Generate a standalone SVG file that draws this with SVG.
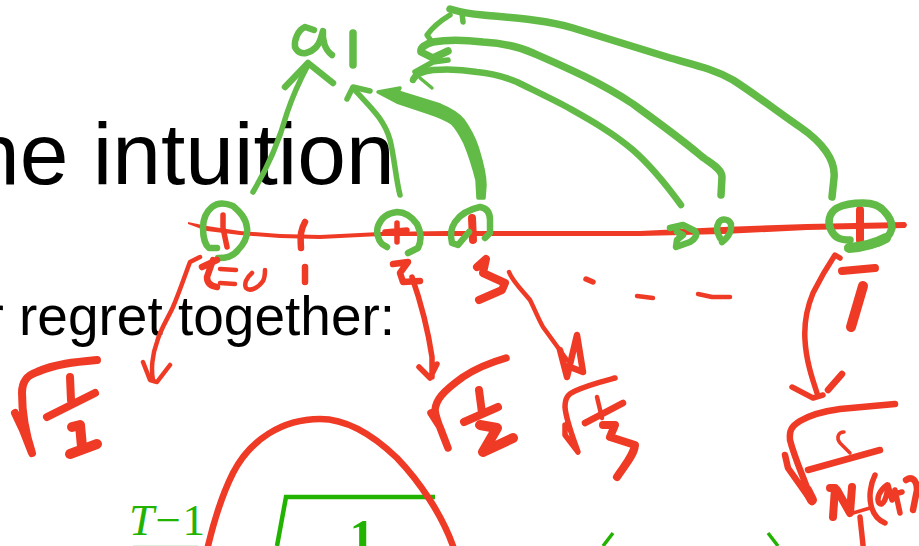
<svg xmlns="http://www.w3.org/2000/svg" width="919" height="546" viewBox="0 0 919 546">
<style>
.t{font-family:"Liberation Sans",Arial,sans-serif;fill:#000}
.m{font-family:"Liberation Serif","Times New Roman",serif;fill:#22b300}
.r,.g,.k{fill:none;stroke-linecap:round;stroke-linejoin:round}
.r{stroke:#ef3a26}.g{stroke:#61bb46}.k{stroke:#22b300;stroke-linecap:butt;stroke-linejoin:miter}
.fr{fill:#ef3a26}.fg{fill:#61bb46}
.a{stroke-width:3.5}.b{stroke-width:4.5}.c{stroke-width:5.5}.d{stroke-width:6.5}.e{stroke-width:7.5}.f{stroke-width:8}.h{stroke-width:10}
</style>
<rect width="919" height="546" fill="#fff"/>
<g id="slide">
<text class="t" x="-29" y="184" font-size="87.6">he intuition</text>
<text class="t" x="-14.6" y="335" font-size="55">r regret together:</text>
<text class="m" x="129" y="535" font-size="45" letter-spacing="1.5"><tspan font-style="italic">T</tspan>−1</text>
<rect x="133" y="545" width="65" height="1" fill="#dff0dc"/>
<path class="k b" d="M277 546L286 497H435"/>
<text class="m" x="362" y="554" font-size="50" font-weight="bold" text-anchor="middle">1</text>
<path class="k a" d="M613 533L603 546M768 533L778 546"/>
</g>
<g id="connectors">
<path class="g c" d="M253 192C265 172 278 145 287 113C293 95 300 80 308 65"/>
<path class="g d" d="M285 87L308 63L333 83"/>
<path class="g c" d="M400 195C396 180 394 155 390 140C384 118 368 105 353 88"/>
<path class="g c" d="M347 99L353 87L370 91"/>
<path class="fg g a" d="M378 92L400 88L398 92L440 105C452 110 458 114 463 120C470 130 474 138 477 147C481 160 485 172 485 185L484 198H478L477 180C474 168 470 155 465 143C461 135 457 128 452 123C445 118 436 115 427 112L397 102Z"/>
<path class="g e" d="M832 197L834 178C836 160 822 142 800 127C778 112 755 94 733 80C712 68 690 64 667 57C635 47 605 38 573 28C545 20 515 18 483 15C470 14 460 12 450 9"/>
<path class="g c" d="M463 22L462 13M450 15C440 21 432 28 427 35L432 42"/>
<path class="g e" d="M721 195L722 177C722 168 708 162 700 155C680 138 655 120 633 104C600 82 565 67 533 53C515 45 500 43 483 42C465 40 445 40 433 42C425 44 420 48 421 52L433 58L448 51"/>
<path class="g c" d="M448 60L433 62L415 72"/>
<path class="g d" d="M681 205C665 183 650 165 633 150C612 132 590 120 567 107C550 98 533 90 517 82C500 75 490 73 477 72C460 69 445 69 433 70C425 71 415 74 413 80"/>
<path class="g a" d="M420 78L432 88"/>
<path class="r b" d="M200 257L190 262C184 278 179 293 173 307C167 320 160 330 157 342C152 355 151 370 153 380M143 362L150 380L157 382L170 365"/>
<path class="r c" d="M412 277C420 300 428 330 432 357L432 377M419 367L430 378L437 364"/>
<path class="r b" d="M509 272C513 282 522 290 530 300C535 310 538 318 543 327L567 360"/>
<path class="r d" d="M560 350L567 377L577 335L583 372L570 367"/>
<path class="r c" d="M840 258L835 255C825 270 818 283 813 293C806 310 804 325 805 340C806 360 812 378 817 393M792 387L813 398L823 395"/>
<path class="r d" d="M828 390L842 374"/>
</g>
<g id="axis">
<path class="fr" d="M188 222L207 226L240 231L280 234L320 235L380 232L447 231L640 231L723 227L807 224L905 222Q909 225 905 228L807 230L723 234L640 236L447 236L380 236L320 239L280 238L240 235L207 231L188 224Z"/>
</g>
<g id="tick-0"><path class="r c" d="M223 215L223 228L227 247"/><path class="g d" d="M218 258C226 258 233 257 238 250C245 243 248 236 247 228C246 218 240 212 233 206C226 203 218 202 212 207C206 212 203 220 203 228C203 236 205 245 209 248L217 248"/></g>
<g id="tick-1"><path class="r d" d="M305 222C301 229 300 235 301 248"/><path class="r d" d="M305 267L305 282"/></g>
<g id="tick-2"><path class="r c" d="M397 223L397 242M385 232L407 230"/><path class="g d" d="M387 247L382 244C378 240 376 232 378 226C381 218 388 213 397 212C405 212 412 217 417 224C421 232 422 240 418 248L408 253"/></g>
<g id="tick-3"><path class="r f" d="M472 218L473 240"/><path class="g d" d="M469 232L458 245L452 243C450 235 451 228 455 222C459 216 466 210 480 207C486 208 490 212 490 220L490 233L485 238"/></g>
<g id="tick-a"><path class="g d" d="M670 228L683 225L695 231C698 235 695 239 690 242L676 247L677 240L683 235L677 232"/></g>
<g id="tick-b"><path class="g d" d="M720 238C717 233 716 227 719 222C722 218 729 219 731 224C732 230 729 237 722 242"/></g>
<g id="tick-T"><path class="r f" d="M860 210L860 240"/><path class="g e" d="M850 240C840 240 835 238 831 230C827 222 829 213 837 208C845 204 855 203 863 203C873 203 880 206 884 211C889 216 892 222 892 228C890 236 886 240 878 243C868 246 858 248 848 248"/><path class="g h" d="M849 248C860 247 875 244 886 238"/></g>
<g id="a1"><path class="g d" d="M314 30L305 27C298 30 294 40 295 47C297 52 302 54 306 53C314 51 319 45 321 38L323 31C322 40 325 50 332 55"/><path class="g e" d="M353 33L353 65"/></g>
<g id="label-t0"><path class="r d" d="M213 260L207 277C207 282 210 286 217 287M202 267L217 260"/><path class="r b" d="M220 269L236 270M220 283L235 284M252 273C246 278 244 284 246 288C250 292 258 288 263 281C265 277 265 273 265 270"/></g>
<g id="label-2"><path class="r d" d="M393 264L408 262L400 273L403 282L420 281"/></g>
<g id="label-3"><path class="r f" d="M477 267L486 259L483 273L505 283L502 290L479 300"/></g>
<g id="dots"><path class="r c" d="M586 279L593 282"/><path class="r b" d="M637 296L653 298M698 294L712 297L730 297"/></g>
<g id="label-T"><path class="r f" d="M842 271L875 268"/><path class="r h" d="M863 286L851 327"/></g>
<g id="sqrt-1">
<path class="r f" d="M15 413L23 430L32 453C26 435 22 415 22 393C22 380 28 375 37 372C55 364 75 362 97 360"/>
<path class="r f" d="M70 377L71 400M47 417L95 393"/>
<path class="r h" d="M72 427L80 425L82 447M70 454L97 444"/>
</g>
<g id="sqrt-2">
<path class="r e" d="M431 413L440 427L448 448C442 432 436 420 435 410C436 400 442 392 463 377C478 367 492 362 506 358"/>
<path class="r f" d="M479 390L482 413M464 422L498 407"/>
<path class="r h" d="M480 425L497 428L483 452L513 438"/>
</g>
<g id="sqrt-3">
<path class="r c" d="M565 425L565 435L578 452C572 435 566 420 565 407C565 398 568 394 575 391C588 385 600 382 615 378"/>
<path class="r b" d="M597 397L602 418"/><path class="r d" d="M585 423L623 403"/>
<path class="r f" d="M603 425L615 425L610 437L635 445C634 455 625 465 617 477"/>
</g>
<g id="sqrt-T">
<path class="r d" d="M785 455L788 468L812 502C805 480 795 460 790 440C789 430 792 426 800 421C812 414 825 411 840 409L895 404"/>
<path class="r h" d="M807 490L812 500"/>
<path class="r a" d="M844 432C838 432 836 438 840 443L850 453"/>
<path class="r d" d="M808 470L880 450"/>
<path class="r f" d="M830 488L835 488L833 517M837 490L850 513L852 487"/>
<path class="r a" d="M853 513L870 508"/>
<path class="r c" d="M860 517L863 545"/>
<path class="r c" d="M875 475C870 485 869 497 871 505C873 514 878 520 885 523M887 485C880 490 876 498 879 503C883 507 887 498 888 485L892 500M895 490L900 513M891 495L902 492"/>
<path class="r d" d="M906 480C912 476 917 480 917 490L913 510"/>
</g>
<g id="parabola"><path class="r d" d="M208 546C213 525 222 495 233 473C250 440 282 419 320 419C345 419 372 434 397 458C420 482 442 515 453 546"/></g>
</svg>
